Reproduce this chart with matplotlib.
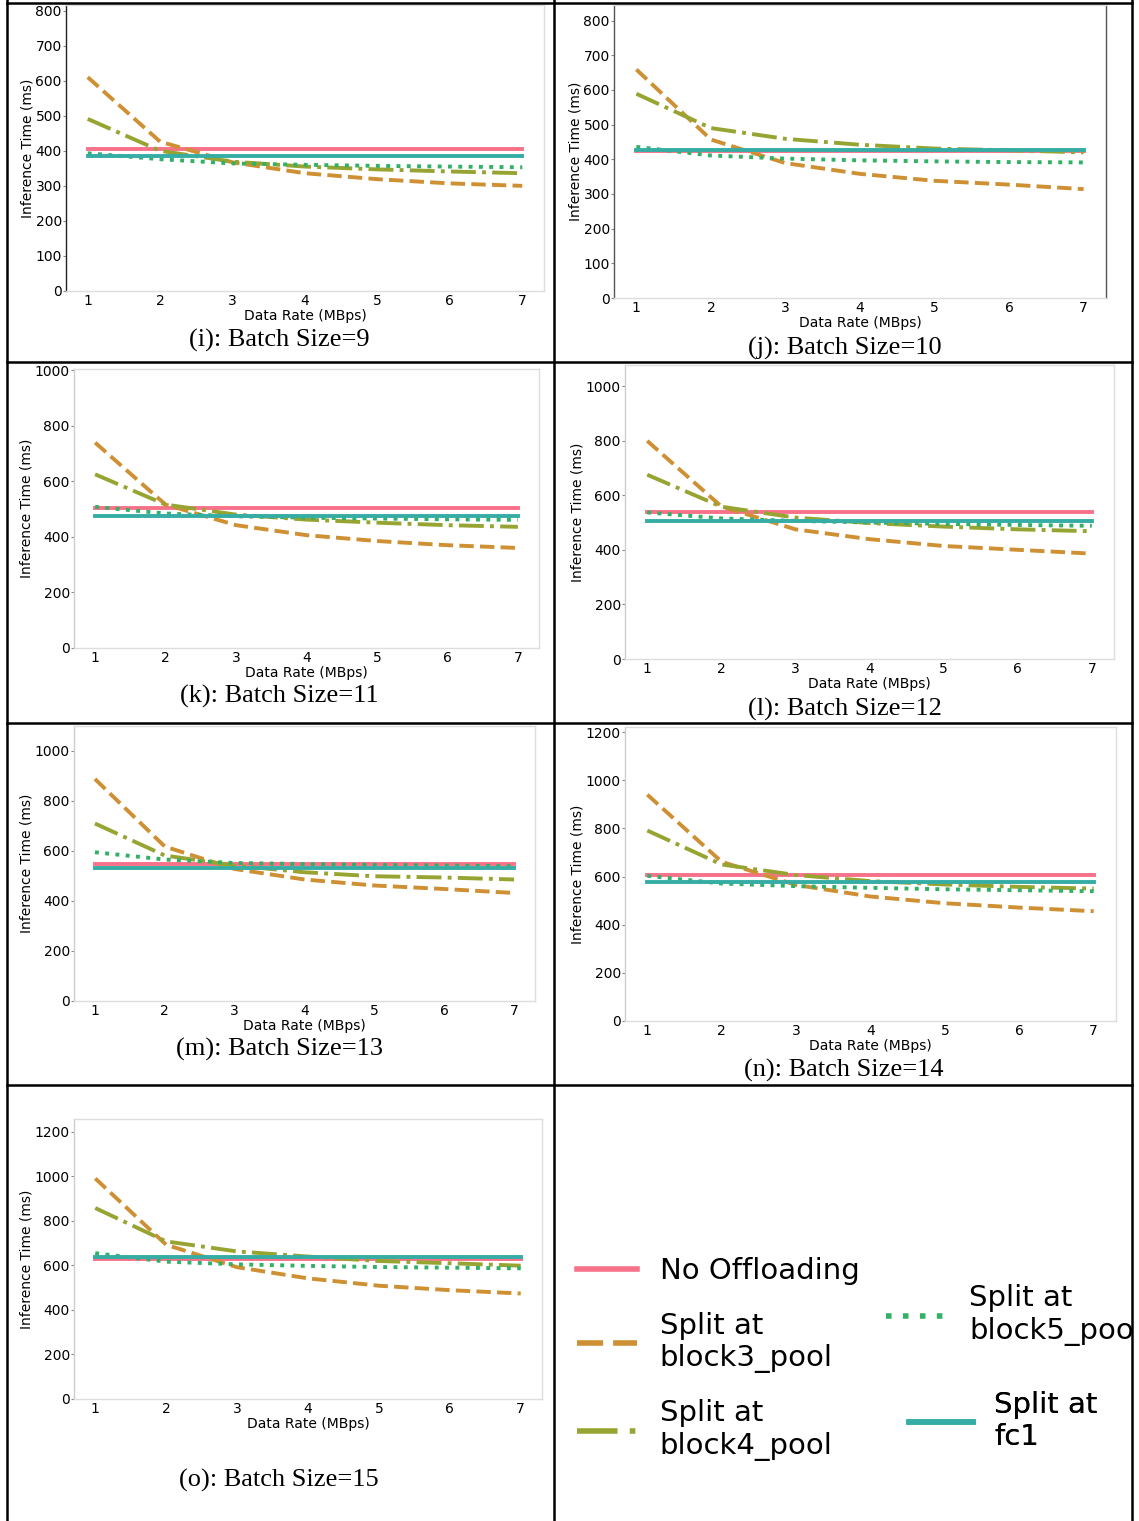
import matplotlib
matplotlib.use('Agg')
import matplotlib.pyplot as plt
from matplotlib.lines import Line2D
from matplotlib.patches import Rectangle

# data
rates = [1, 2, 3, 4, 5, 6, 7]
batch_sizes = [9, 10, 11, 12, 13, 14, 15]
panel_letters = ['i', 'j', 'k', 'l', 'm', 'n', 'o']

no_offloading = [406, 423, 502, 539, 548, 608, 630]
split_fc1 = [385, 426, 475, 504, 533, 578, 636]
split_block3 = [
    [610, 426, 367, 336, 319, 307, 300],
    [659, 457, 389, 358, 338, 327, 314],
    [739, 516, 442, 406, 385, 370, 360],
    [799, 559, 475, 439, 414, 400, 386],
    [888, 618, 528, 486, 462, 448, 432],
    [940, 661, 565, 517, 489, 471, 456],
    [991, 693, 592, 542, 509, 489, 474],
]
split_block4 = [
    [491, 400, 369, 355, 347, 341, 336],
    [589, 490, 459, 442, 431, 426, 420],
    [625, 516, 480, 462, 451, 442, 436],
    [675, 558, 518, 498, 485, 475, 468],
    [710, 582, 542, 515, 499, 494, 486],
    [791, 650, 606, 581, 567, 557, 550],
    [858, 708, 663, 640, 620, 610, 599],
]
split_block5 = [
    [393, 376, 364, 360, 357, 355, 353],
    [436, 411, 402, 397, 394, 392, 391],
    [508, 484, 474, 469, 466, 463, 461],
    [537, 515, 506, 500, 495, 491, 488],
    [595, 566, 552, 548, 544, 542, 539],
    [603, 571, 560, 553, 547, 543, 539],
    [655, 617, 605, 598, 593, 590, 587],
]

series_labels = ['No Offloading', 'Split at\nblock3_pool', 'Split at\nblock4_pool',
                 'Split at\nblock5_pool', 'Split at\nfc1']
colors = ['#f77189', '#ce9032', '#97a431', '#32b166', '#36ada4']
styles = ['-', '--', '-.', ':', '-']

W, H = 1139, 1521


def rect(left, top, right, bottom):
    return [left / W, 1 - bottom / H, (right - left) / W, (bottom - top) / H]


# layout of each panel in pixels: left, top, right, bottom, ylim top, ytick step,
# caption centre, left spine colour
layout = [
    dict(r=(66, 5, 544, 291), ytop=816, step=100, ymax=800, cap=(279, 340), lc='#222222'),
    dict(r=(614, 5, 1106, 298), ytop=845, step=100, ymax=800, cap=(845, 348), lc='#555555'),
    dict(r=(74, 369, 539, 648), ytop=1004, step=200, ymax=1000, cap=(279, 696), lc='#cccccc'),
    dict(r=(625, 365, 1114, 659), ytop=1077, step=200, ymax=1000, cap=(845, 709), lc='#cccccc'),
    dict(r=(74, 726, 535, 1001), ytop=1100, step=200, ymax=1000, cap=(279, 1049), lc='#cccccc'),
    dict(r=(625, 727, 1116, 1021), ytop=1221, step=200, ymax=1200, cap=(844, 1070), lc='#cccccc'),
    dict(r=(74, 1119, 542, 1399), ytop=1258, step=200, ymax=1200, cap=(279, 1480), lc='#cccccc'),
]

fig = plt.figure(figsize=(W / 100, H / 100), dpi=100)
fig.patch.set_facecolor('white')

for i, cfg in enumerate(layout):
    ax = fig.add_axes(rect(*cfg['r']))
    ys = [[no_offloading[i]] * len(rates), split_block3[i], split_block4[i],
          split_block5[i], [split_fc1[i]] * len(rates)]
    for y, c, ls in zip(ys, colors, styles):
        ax.plot(rates, y, color=c, linestyle=ls, linewidth=2.8)
    ax.set_xlim(0.7, 7.3)
    ax.set_ylim(0, cfg['ytop'])
    ax.set_xticks(rates)
    ax.set_yticks(list(range(0, cfg['ymax'] + 1, cfg['step'])))
    ax.tick_params(axis='x', length=0, pad=2, labelsize=10)
    ax.tick_params(axis='y', length=2, width=0.8, color='#888888', pad=1, labelsize=10)
    for s in ax.spines.values():
        s.set_color('#dddddd')
        s.set_linewidth(1)
    ax.spines['left'].set_color(cfg['lc'])
    if i == 1:
        ax.spines['right'].set_color('#555555')
    ax.set_xlabel('Data Rate (MBps)', fontsize=10, labelpad=1)
    ax.set_ylabel('Inference Time (ms)', fontsize=10, labelpad=1)
    cx, cy = cfg['cap']
    fig.text(cx / W, 1 - cy / H, f'({panel_letters[i]}): Batch Size={batch_sizes[i]}',
             ha='center', va='center', family='Liberation Serif', fontsize=19)

# legend cell
leg_ax = fig.add_axes(rect(556, 1087, 1131, 1520))
leg_ax.axis('off')
handles = [
    Line2D([], [], color=colors[0], lw=4),
    Line2D([], [], color=colors[1], lw=4, dashes=(4.7, 1.8)),
    Line2D([], [], color=colors[2], lw=4, dashes=(7.3, 2.2, 1, 2.2)),
    Line2D([], [], color=colors[3], lw=4, dashes=(1, 2.05)),
    Line2D([], [], color=colors[4], lw=4),
]
common = dict(bbox_transform=fig.transFigure, frameon=False, fontsize=21,
              borderpad=0, borderaxespad=0, loc='center left')
leg1 = leg_ax.legend(handles[:3], series_labels[:3], bbox_to_anchor=(577 / W, 1 - 1359 / H),
                     handlelength=2.05, handletextpad=0.78, labelspacing=0.9, **common)
leg_ax.add_artist(leg1)
leg2 = leg_ax.legend(handles[3:4], series_labels[3:4], bbox_to_anchor=(886 / W, 1 - 1315 / H),
                     handlelength=2.0, handletextpad=0.85, **common)
leg_ax.add_artist(leg2)
leg3 = leg_ax.legend(handles[4:5], series_labels[4:5], bbox_to_anchor=(909 / W, 1 - 1421 / H),
                     handlelength=2.2, handletextpad=0.72, **common)
leg_ax.add_artist(leg3)

# mask the overflow past the right border, then the table grid
fig.add_artist(Rectangle((1133 / W, 0), (W - 1133) / W, 1, transform=fig.transFigure,
                         facecolor='white', edgecolor='none', zorder=10))
for x in [7, 554, 1132]:
    fig.add_artist(Line2D([x / W, x / W], [0, 1], transform=fig.transFigure,
                          color='black', lw=1.8, zorder=11))
for y in [2.5, 362, 723.5, 1085]:
    fig.add_artist(Line2D([7 / W, 1132 / W], [1 - y / H, 1 - y / H], transform=fig.transFigure,
                          color='black', lw=1.8, zorder=11))

fig.savefig('out.png', dpi=100, facecolor='white')
